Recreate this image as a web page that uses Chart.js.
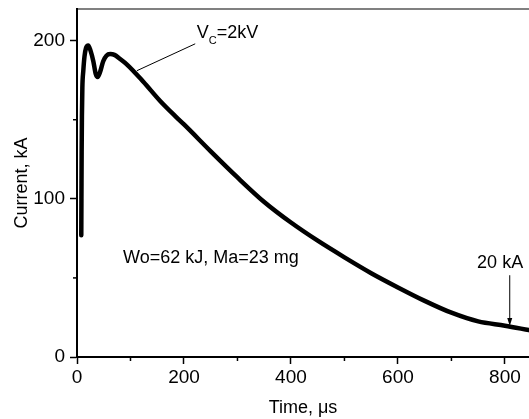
<!DOCTYPE html>
<html lang="en">
<head>
    <meta charset="UTF-8" />
    <title>Discharge current</title>
    <script src="https://cdn.jsdelivr.net/npm/chart.js"></script>
    <style>
        body { margin: 0; background: #fff; }
    </style>
</head>
<body>
    <canvas id="currentChart" width="529" height="419"></canvas>

    <script>
        // data
        const timeUs = [8, 8.3, 8.7, 9.2, 10, 11.8, 14, 17, 21, 25, 30.5, 35, 38.6, 43, 49, 55, 62, 70, 80, 93,
            124, 155, 186, 200, 250, 300, 350, 400, 450, 500, 550, 600, 650, 700, 750, 800, 845];
        const currentKA = [77, 100, 130, 152, 170, 181, 190, 195.5, 197, 194, 187, 179, 177, 180, 187, 190.5, 191.5, 191, 188.5, 185,
            174, 162, 151.5, 147, 130, 113.5, 98, 85, 73.5, 63, 53, 44, 35.5, 28, 22.5, 19.8, 17];

        const xTickLabels = [0, 200, 400, 600, 800];
        const xMinorTicks = [100, 300, 500, 700];
        const yTickLabels = [0, 100, 200];
        const yMinorTicks = [50, 150];

        const FONT = '"Liberation Sans", Arial, sans-serif';

        const fixTicks = (majors, minors) => (scale) => {
            scale.ticks = majors.concat(minors).sort((a, b) => a - b).map(v => ({ value: v }));
        };

        // annotations + minor ticks
        const overlay = {
            id: 'overlay',
            afterDraw(chart) {
                const { ctx, scales: { x, y } } = chart;
                ctx.save();
                ctx.strokeStyle = '#000';
                ctx.lineWidth = 1.5;
                xMinorTicks.forEach(v => {
                    const px = x.getPixelForValue(v);
                    ctx.beginPath();
                    ctx.moveTo(px, y.bottom);
                    ctx.lineTo(px, y.bottom + 4);
                    ctx.stroke();
                });
                yMinorTicks.forEach(v => {
                    const py = y.getPixelForValue(v);
                    ctx.beginPath();
                    ctx.moveTo(x.left, py);
                    ctx.lineTo(x.left - 4, py);
                    ctx.stroke();
                });

                ctx.fillStyle = '#000';
                ctx.textBaseline = 'alphabetic';
                ctx.textAlign = 'left';

                // Vc label
                let px = x.getPixelForValue(224);
                let py = y.getPixelForValue(201.9);
                ctx.font = '18px ' + FONT;
                ctx.fillText('V', px, py);
                px += ctx.measureText('V').width;
                ctx.font = '11px ' + FONT;
                ctx.fillText('C', px, py + 6);
                px += ctx.measureText('C').width;
                ctx.font = '18px ' + FONT;
                ctx.fillText('=2kV', px, py);

                ctx.lineWidth = 1;
                ctx.beginPath();
                ctx.moveTo(x.getPixelForValue(112), y.getPixelForValue(181));
                ctx.lineTo(x.getPixelForValue(221), y.getPixelForValue(198));
                ctx.stroke();

                ctx.fillText('Wo=62 kJ, Ma=23 mg', x.getPixelForValue(86), y.getPixelForValue(59.3));
                ctx.fillText('20 kA', x.getPixelForValue(748), y.getPixelForValue(56));

                // arrow to 20 kA
                const ax = x.getPixelForValue(809);
                const ay0 = y.getPixelForValue(51.7);
                const ay1 = y.getPixelForValue(19.6);
                ctx.beginPath();
                ctx.moveTo(ax, ay0);
                ctx.lineTo(ax, ay1 - 5);
                ctx.stroke();
                ctx.beginPath();
                ctx.moveTo(ax, ay1);
                ctx.lineTo(ax - 2.5, ay1 - 8);
                ctx.lineTo(ax + 2.5, ay1 - 8);
                ctx.closePath();
                ctx.fill();
                ctx.restore();
            }
        };

        const chart = new Chart(document.getElementById('currentChart'), {
            type: 'line',
            data: {
                datasets: [{
                    data: timeUs.map((t, i) => ({ x: t, y: currentKA[i] })),
                    borderColor: '#000',
                    borderWidth: 4.5,
                    pointRadius: 0,
                    cubicInterpolationMode: 'monotone',
                    borderJoinStyle: 'round',
                    borderCapStyle: 'round'
                }]
            },
            options: {
                responsive: false,
                animation: false,
                devicePixelRatio: 1,
                layout: { padding: 0 },
                plugins: { legend: { display: false }, tooltip: { enabled: false } },
                scales: {
                    x: {
                        type: 'linear',
                        position: 'bottom',
                        min: 0,
                        max: 845,
                        afterBuildTicks: fixTicks(xTickLabels, xMinorTicks),
                        afterFit: s => { s.height = 62; s.paddingLeft = 0; s.paddingRight = 0; },
                        grid: {
                            drawOnChartArea: false,
                            tickLength: 7,
                            tickWidth: 1.5,
                            tickColor: c => xTickLabels.includes(c.tick.value) ? '#000' : 'rgba(0,0,0,0)'
                        },
                        border: { color: '#000', width: 2 },
                        ticks: {
                            autoSkip: false,
                            maxRotation: 0,
                            padding: 2,
                            color: '#000',
                            font: { family: FONT, size: 19 },
                            callback: v => xTickLabels.includes(v) ? String(v) : ''
                        },
                        title: {
                            display: true,
                            text: 'Time, \u03bcs',
                            color: '#000',
                            font: { family: FONT, size: 18 },
                            padding: { top: 0, bottom: 0 }
                        }
                    },
                    top: {
                        type: 'linear',
                        position: 'top',
                        min: 0,
                        max: 845,
                        afterFit: s => { s.height = 9; },
                        grid: { display: false, drawTicks: false },
                        border: { color: '#808080', width: 2 },
                        ticks: { display: false }
                    },
                    y: {
                        type: 'linear',
                        position: 'left',
                        min: 0,
                        max: 220,
                        afterBuildTicks: fixTicks(yTickLabels, yMinorTicks),
                        afterFit: s => { s.width = 77; s.paddingTop = 0; s.paddingBottom = 0; },
                        grid: {
                            drawOnChartArea: false,
                            tickLength: 7,
                            tickWidth: 1.5,
                            tickColor: c => yTickLabels.includes(c.tick.value) ? '#000' : 'rgba(0,0,0,0)'
                        },
                        border: { color: '#000', width: 2 },
                        ticks: {
                            autoSkip: false,
                            padding: 5,
                            color: '#000',
                            font: { family: FONT, size: 19 },
                            callback: v => yTickLabels.includes(v) ? String(v) : ''
                        },
                        title: {
                            display: true,
                            text: 'Current, kA',
                            color: '#000',
                            font: { family: FONT, size: 18 },
                            padding: { top: 11, bottom: 0 }
                        }
                    }
                }
            },
            plugins: [overlay]
        });
    </script>
</body>
</html>
